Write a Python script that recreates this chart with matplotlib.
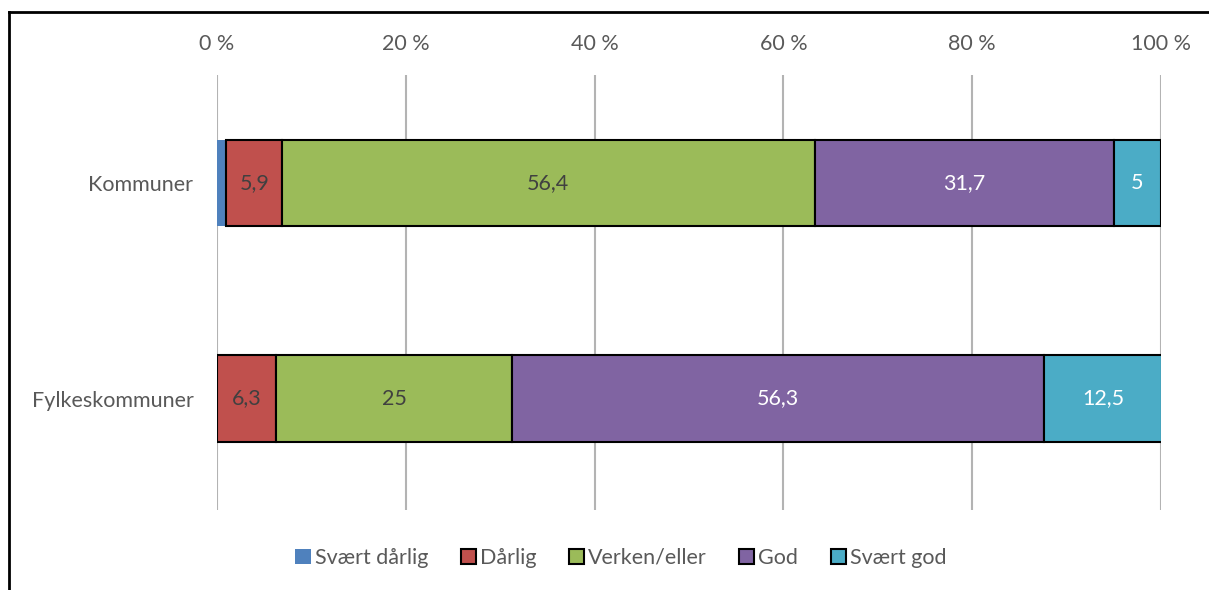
import numpy as np
import matplotlib.pyplot as plt
from matplotlib.lines import Line2D

# data
groups = ["Kommuner", "Fylkeskommuner"]
series = ["Svært dårlig", "Dårlig", "Verken/eller", "God", "Svært god"]
svaert_darlig = [1.0, 0.0]
darlig = [5.9, 6.3]
verken = [56.4, 25.0]
god = [31.7, 56.3]
svaert_god = [5.0, 12.5]

values = [svaert_darlig, darlig, verken, god, svaert_god]
colors = ["#4F81BD", "#C0504D", "#9BBB59", "#8064A2", "#4BACC6"]
label_col = [None, "#404040", "#404040", "white", "white"]

plt.rcParams['font.family'] = ['Lato', 'DejaVu Sans']
fs = 15.5

fig = plt.figure(figsize=(12.09, 5.9), dpi=100)
ax = fig.add_axes([217/1209, 1-510/590, (1161-217)/1209, (510-75)/590])

y = np.arange(len(groups))
left = np.zeros(len(groups))
for i, (name, vals) in enumerate(zip(series, values)):
    vals = np.array(vals)
    edge = "none" if i == 0 else "black"
    bars = ax.barh(y, vals, left=left, height=0.4, color=colors[i],
                   edgecolor=edge, linewidth=1.5, label=name, zorder=3)
    if label_col[i] is not None:
        for b, v in zip(bars, vals):
            if v > 0:
                txt = ("%g" % v).replace(".", ",")
                ax.text(b.get_x() + b.get_width()/2, b.get_y() + b.get_height()/2,
                        txt, ha="center", va="center", fontsize=fs,
                        color=label_col[i], zorder=4)
    left += vals

ax.set_xlim(0, 100)
ax.set_ylim(1.517, -0.501)
ax.set_yticks(y)
ax.set_yticklabels(groups, fontsize=fs, color="#595959")
ax.set_xticks(np.arange(0, 101, 20))
ax.set_xticklabels(["%d %%" % t for t in range(0, 101, 20)], fontsize=fs, color="#595959")
ax.xaxis.tick_top()
ax.tick_params(axis="x", length=0, pad=15)
ax.tick_params(axis="y", length=0, pad=17)
ax.grid(axis="x", color="#b3b3b3", linewidth=1.5, zorder=0)
for s in ax.spines.values():
    s.set_visible(False)

handles = []
for i, name in enumerate(series):
    handles.append(plt.Rectangle((0, 0), 1, 1, facecolor=colors[i],
                                 edgecolor="none" if i == 0 else "black", linewidth=1.5))
fig.legend(handles, series, loc="center", bbox_to_anchor=(621/1209, 1-558/590),
           ncol=5, frameon=False, fontsize=fs, handlelength=0.7, handleheight=0.7,
           handletextpad=0.2, columnspacing=1.5, labelcolor="#595959")

# outer frame (left and top)
fig.add_artist(Line2D([9/1209, 9/1209], [0, 1-12/590], color="black", linewidth=2))
fig.add_artist(Line2D([9/1209, 1], [1-12/590, 1-12/590], color="black", linewidth=2))

plt.savefig("out.png", dpi=100)
